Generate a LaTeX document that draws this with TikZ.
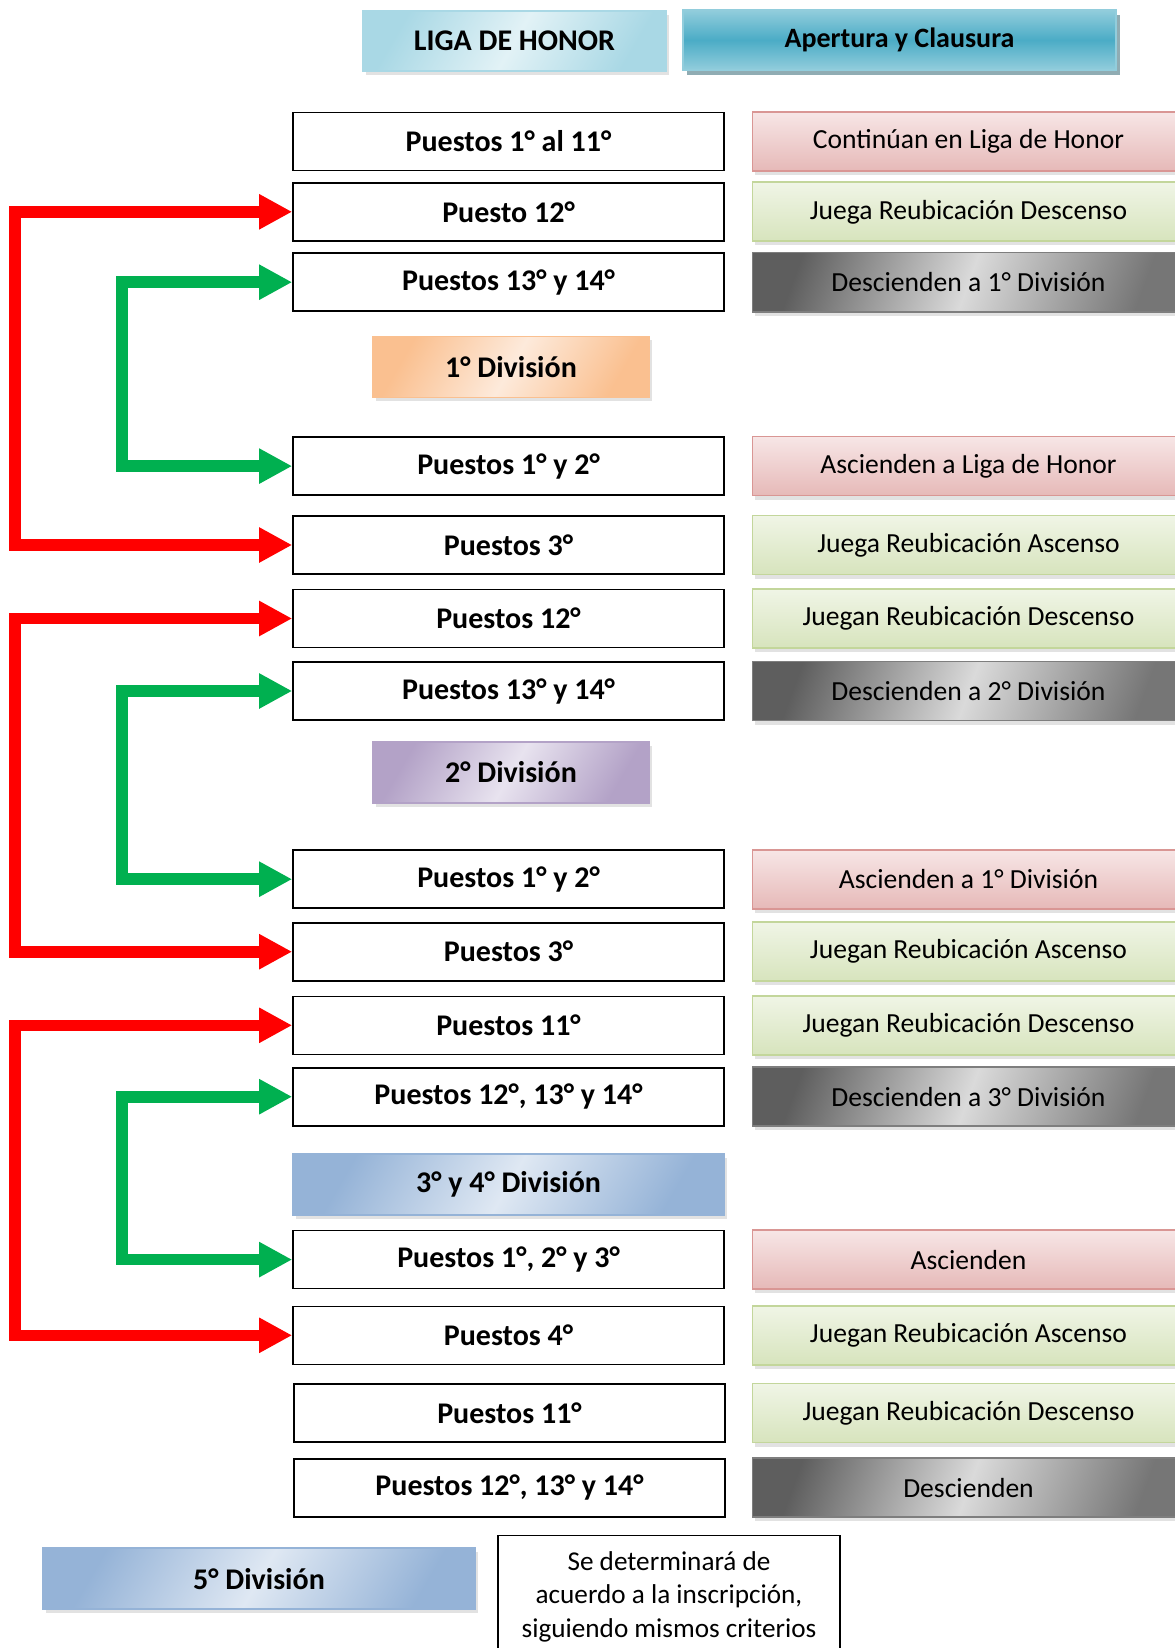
\documentclass[tikz,border=0pt]{standalone}
\usepackage{fontspec}
\setmainfont{Carlito}
\usetikzlibrary{arrows.meta,shadows}

\definecolor{flechaRoja}{HTML}{FF0000}
\definecolor{flechaVerde}{HTML}{00B050}
\definecolor{rosaBorde}{HTML}{D99694}
\definecolor{rosaA}{HTML}{F7E6E6}
\definecolor{rosaB}{HTML}{E6B9B8}
\definecolor{verdeBorde}{HTML}{C3D69B}
\definecolor{verdeA}{HTML}{F0F5E6}
\definecolor{verdeB}{HTML}{D7E4BD}
\definecolor{grisOsc}{HTML}{5E5E5E}
\definecolor{grisClaro}{HTML}{DADADA}
\definecolor{naranjaBorde}{HTML}{FAC090}
\definecolor{naranjaClaro}{HTML}{FDEADB}
\definecolor{lilaBorde}{HTML}{B3A2C7}
\definecolor{lilaClaro}{HTML}{E8E3EF}
\definecolor{azulBorde}{HTML}{95B3D7}
\definecolor{azulClaro}{HTML}{DFE8F3}
\definecolor{celeste}{HTML}{A9D8E5}
\definecolor{celesteClaro}{HTML}{E2F2F6}
\definecolor{turquesa}{HTML}{4BACC6}
\definecolor{turquesaClaro}{HTML}{92CDDC}
\definecolor{turquesaSombra}{HTML}{215968}

\tikzset{
  puesto/.style={draw=black,line width=0.8pt,fill=white,minimum width=215.5pt,
    minimum height=29pt,inner sep=0pt,font=\fontsize{15}{18}\selectfont\bfseries},
  resultado/.style={draw,line width=0.8pt,minimum width=216pt,minimum height=29.5pt,
    inner sep=0pt,font=\fontsize{13.8}{16}\selectfont,
    drop shadow={shadow xshift=1pt,shadow yshift=-2pt,fill=gray!45}},
  sigue/.style={resultado,draw=rosaBorde,top color=rosaA,bottom color=rosaB},
  juega/.style={resultado,draw=verdeBorde,top color=verdeA,bottom color=verdeB},
  baja/.style={resultado,draw=grisOsc!80,left color=grisOsc,right color=grisOsc!85!white,
    middle color=grisClaro,shading angle=70},
  division/.style={draw=#1Borde,line width=0.8pt,left color=#1Borde,right color=#1Borde,
    middle color=#1Claro,shading angle=60,minimum width=138pt,minimum height=30.5pt,
    inner sep=0pt,font=\fontsize{15}{18}\selectfont\bfseries,
    drop shadow={shadow xshift=1.5pt,shadow yshift=-2pt,fill=gray!45}},
  flechaR/.style={draw=flechaRoja,line width=5.8pt,
    {Triangle[length=16.5pt,width=16.5pt]}-{Triangle[length=16.5pt,width=16.5pt]}},
  flechaV/.style={flechaR,draw=flechaVerde}
}

\begin{document}
\begin{tikzpicture}[x=0.5pt,y=-0.5pt]
\useasboundingbox (0,0) rectangle (1174,1648);
\coordinate (rojaX) at (15,0);
\coordinate (verdeX) at (122,0);

\node[draw=celeste,line width=0.8pt,left color=celeste,right color=celeste,
  middle color=celesteClaro,shading angle=60,minimum width=151.5pt,minimum height=30pt,
  font=\fontsize{15}{18}\selectfont\bfseries,
  drop shadow={shadow xshift=1.5pt,shadow yshift=-2pt,fill=gray!45}]
  (liga) at (514.5,41) {LIGA DE HONOR};
\node[draw=turquesaClaro,line width=1pt,top color=turquesaClaro,bottom color=turquesaClaro,
  middle color=turquesa,minimum width=216.5pt,minimum height=30pt,
  font=\fontsize{14}{17}\selectfont\bfseries,
  drop shadow={shadow xshift=2pt,shadow yshift=-2.5pt,fill=turquesaSombra}]
  (torneo) at (899.5,40) {Apertura y Clausura};

\node[puesto] (lhA) at (508.5,141.4) {Puestos 1° al 11°};
\node[puesto] (lhB) at (508.5,211.8) {Puesto 12°};
\node[puesto] (lhC) at (508.5,282.2) {Puestos 13° y 14°};
\node[sigue] (rlhA) at (968.5,141.4) {Continúan en Liga de Honor};
\node[juega] (rlhB) at (968.5,211.8) {Juega Reubicación Descenso};
\node[baja] (rlhC) at (968.5,282.2) {Descienden a 1° División};

\node[division=naranja] (duno) at (511,366.8) {1° División};
\node[puesto] (dunoA) at (508.5,466.1) {Puestos 1° y 2°};
\node[puesto] (dunoB) at (508.5,545) {Puestos 3°};
\node[puesto] (dunoC) at (508.5,618.5) {Puestos 12°};
\node[puesto] (dunoD) at (508.5,691) {Puestos 13° y 14°};
\node[sigue] (rdunoA) at (968.5,466.1) {Ascienden a Liga de Honor};
\node[juega] (rdunoB) at (968.5,545) {Juega Reubicación Ascenso};
\node[juega] (rdunoC) at (968.5,618.5) {Juegan Reubicación Descenso};
\node[baja] (rdunoD) at (968.5,691) {Descienden a 2° División};

\node[division=lila] (ddos) at (511,772.5) {2° División};
\node[puesto] (ddosA) at (508.5,879.2) {Puestos 1° y 2°};
\node[puesto] (ddosB) at (508.5,951.7) {Puestos 3°};
\node[puesto] (ddosC) at (508.5,1025.3) {Puestos 11°};
\node[puesto] (ddosD) at (508.5,1096.7) {Puestos 12°, 13° y 14°};
\node[sigue] (rddosA) at (968.5,879.2) {Ascienden a 1° División};
\node[juega] (rddosB) at (968.5,951.7) {Juegan Reubicación Ascenso};
\node[juega] (rddosC) at (968.5,1025.3) {Juegan Reubicación Descenso};
\node[baja] (rddosD) at (968.5,1096.7) {Descienden a 3° División};

\node[division=azul,minimum width=215.5pt] (dtres) at (508.5,1184.5) {3° y 4° División};
\node[puesto] (dtresA) at (508.5,1259.6) {Puestos 1°, 2° y 3°};
\node[puesto] (dtresB) at (508.5,1335.3) {Puestos 4°};
\node[puesto] (dtresC) at (509.5,1413.1) {Puestos 11°};
\node[puesto] (dtresD) at (509.5,1487.7) {Puestos 12°, 13° y 14°};
\node[sigue] (rdtresA) at (968.5,1259.6) {Ascienden};
\node[juega] (rdtresB) at (968.5,1335.3) {Juegan Reubicación Ascenso};
\node[juega] (rdtresC) at (968.5,1413.1) {Juegan Reubicación Descenso};
\node[baja] (rdtresD) at (968.5,1487.7) {Descienden};

\node[division=azul,minimum width=216pt] (dcinco) at (259,1578.6) {5° División};
\node[draw=black,line width=0.8pt,fill=white,anchor=north,minimum width=171pt,align=center,
  inner xsep=4pt,inner ysep=8pt,font=\fontsize{13.6}{16.75}\selectfont]
  (nota) at (669,1534.5) {Se determinará de\\acuerdo a la inscripción,\\siguiendo mismos criterios};

\draw[flechaR] (lhB.west) -- (lhB.west -| rojaX) |- (dunoB.west);
\draw[flechaV] (lhC.west) -- (lhC.west -| verdeX) |- (dunoA.west);
\draw[flechaR] (dunoC.west) -- (dunoC.west -| rojaX) |- (ddosB.west);
\draw[flechaV] (dunoD.west) -- (dunoD.west -| verdeX) |- (ddosA.west);
\draw[flechaR] (ddosC.west) -- (ddosC.west -| rojaX) |- (dtresB.west);
\draw[flechaV] (ddosD.west) -- (ddosD.west -| verdeX) |- (dtresA.west);
\end{tikzpicture}
\end{document}
